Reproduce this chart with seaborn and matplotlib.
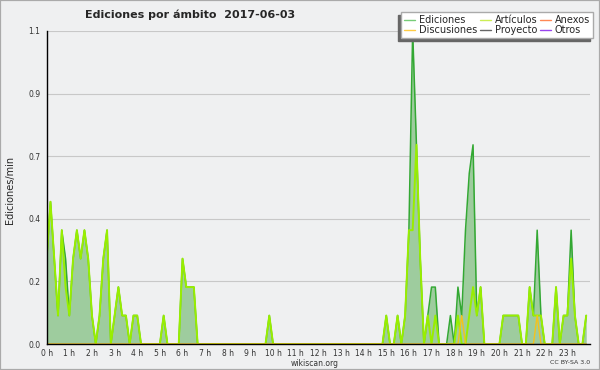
import numpy as np
import seaborn as sns
import matplotlib.pyplot as plt
from matplotlib.lines import Line2D
from matplotlib.patches import Rectangle

# ediciones por minuto, tramos de 10 minutos (6 por hora)
ediciones = [
    0.3, 0.5, 0.3, 0.1, 0.4, 0.3,   # 0 h
    0.1, 0.3, 0.4, 0.3, 0.4, 0.3,   # 1 h
    0.1, 0.0, 0.1, 0.3, 0.4, 0.0,   # 2 h
    0.1, 0.2, 0.1, 0.1, 0.0, 0.1,   # 3 h
    0.1, 0.0, 0.0, 0.0, 0.0, 0.0,   # 4 h
    0.0, 0.1, 0.0, 0.0, 0.0, 0.0,   # 5 h
    0.3, 0.2, 0.2, 0.2, 0.0, 0.0,   # 6 h
    0.0, 0.0, 0.0, 0.0, 0.0, 0.0,   # 7 h
    0.0, 0.0, 0.0, 0.0, 0.0, 0.0,   # 8 h
    0.0, 0.0, 0.0, 0.0, 0.0, 0.1,   # 9 h
    0.0, 0.0, 0.0, 0.0, 0.0, 0.0,   # 10 h
    0.0, 0.0, 0.0, 0.0, 0.0, 0.0,   # 11 h
    0.0, 0.0, 0.0, 0.0, 0.0, 0.0,   # 12 h
    0.0, 0.0, 0.0, 0.0, 0.0, 0.0,   # 13 h
    0.0, 0.0, 0.0, 0.0, 0.0, 0.0,   # 14 h
    0.1, 0.0, 0.0, 0.1, 0.0, 0.1,   # 15 h
    0.4, 1.1, 0.7, 0.3, 0.0, 0.1,   # 16 h
    0.2, 0.2, 0.0, 0.0, 0.0, 0.1,   # 17 h
    0.0, 0.2, 0.1, 0.4, 0.6, 0.7,   # 18 h
    0.1, 0.2, 0.0, 0.0, 0.0, 0.0,   # 19 h
    0.0, 0.1, 0.1, 0.1, 0.1, 0.1,   # 20 h
    0.0, 0.0, 0.2, 0.1, 0.4, 0.1,   # 21 h
    0.0, 0.0, 0.0, 0.2, 0.0, 0.1,   # 22 h
    0.1, 0.4, 0.1, 0.0, 0.0, 0.1,   # 23 h
]

articulos = [
    0.3, 0.5, 0.3, 0.1, 0.4, 0.2,   # 0 h
    0.1, 0.3, 0.4, 0.3, 0.4, 0.3,   # 1 h
    0.1, 0.0, 0.1, 0.3, 0.4, 0.0,   # 2 h
    0.1, 0.2, 0.1, 0.1, 0.0, 0.1,   # 3 h
    0.1, 0.0, 0.0, 0.0, 0.0, 0.0,   # 4 h
    0.0, 0.1, 0.0, 0.0, 0.0, 0.0,   # 5 h
    0.3, 0.2, 0.2, 0.2, 0.0, 0.0,   # 6 h
    0.0, 0.0, 0.0, 0.0, 0.0, 0.0,   # 7 h
    0.0, 0.0, 0.0, 0.0, 0.0, 0.0,   # 8 h
    0.0, 0.0, 0.0, 0.0, 0.0, 0.1,   # 9 h
    0.0, 0.0, 0.0, 0.0, 0.0, 0.0,   # 10 h
    0.0, 0.0, 0.0, 0.0, 0.0, 0.0,   # 11 h
    0.0, 0.0, 0.0, 0.0, 0.0, 0.0,   # 12 h
    0.0, 0.0, 0.0, 0.0, 0.0, 0.0,   # 13 h
    0.0, 0.0, 0.0, 0.0, 0.0, 0.0,   # 14 h
    0.1, 0.0, 0.0, 0.1, 0.0, 0.1,   # 15 h
    0.4, 0.4, 0.7, 0.3, 0.0, 0.1,   # 16 h
    0.0, 0.1, 0.0, 0.0, 0.0, 0.0,   # 17 h
    0.0, 0.1, 0.0, 0.0, 0.1, 0.2,   # 18 h
    0.1, 0.2, 0.0, 0.0, 0.0, 0.0,   # 19 h
    0.0, 0.1, 0.1, 0.1, 0.1, 0.1,   # 20 h
    0.0, 0.0, 0.2, 0.1, 0.1, 0.1,   # 21 h
    0.0, 0.0, 0.0, 0.2, 0.0, 0.1,   # 22 h
    0.1, 0.3, 0.1, 0.0, 0.0, 0.1,   # 23 h
]

discusiones = [0.0] * 144
discusiones[110] = 0.1   # 18:20
discusiones[130] = 0.1   # 21:40

anexos = [0.0] * 144
proyecto = [0.0] * 144
otros = [0.0] * 144

minutos = np.arange(0, 1440, 10)
horas = minutos / 60
etiquetas_horas = [f"{h} h" for h in range(24)]
yticks = [0.0, 0.22, 0.44, 0.66, 0.88, 1.1]
yticklabels = ["0.0", "0.2", "0.4", "0.7", "0.9", "1.1"]

bg = "#eff0f1"
sns.set_style("white", {"axes.facecolor": bg, "figure.facecolor": bg})
plt.rcParams["font.family"] = ["DejaVu Sans"]

fig = plt.figure(figsize=(6, 3.7), dpi=100)
ax = fig.add_axes([46.7 / 600, 1 - 344 / 370, (590 - 46.7) / 600, (344 - 31) / 370])

for y in yticks[1:]:
    ax.axhline(y, color="#c8c8c8", linewidth=0.8, zorder=0)

ax.fill_between(horas, ediciones, color="#9ecc9e", linewidth=0, zorder=1)
for serie, color in [(anexos, "#ff7744"), (proyecto, "#555555"), (otros, "#9933ee")]:
    sns.lineplot(x=horas, y=serie, ax=ax, color=color, linewidth=0.8, zorder=1)
sns.lineplot(x=horas, y=ediciones, ax=ax, color="#33a833", linewidth=1.1, zorder=2)
sns.lineplot(x=horas, y=articulos, ax=ax, color="#99ee00", linewidth=1.4, zorder=3)
sns.lineplot(x=horas, y=discusiones, ax=ax, color="#f5c21b", linewidth=1.0, zorder=4)

ax.set_xlim(0, 24)
ax.set_ylim(0, 1.1)
for s in ["top", "right"]:
    ax.spines[s].set_visible(False)
for s in ["left", "bottom"]:
    ax.spines[s].set_color("black")
    ax.spines[s].set_linewidth(1.0)
    ax.spines[s].set_zorder(5)

ax.set_xticks(range(24))
ax.set_xticklabels(etiquetas_horas)
ax.set_xticks(horas, minor=True)
ax.set_yticks(yticks)
ax.set_yticklabels(yticklabels)
ax.set_yticks(np.arange(0, 1.1, 0.055), minor=True)
ax.tick_params(axis="both", which="both", direction="out", color="black",
               labelsize=5.5, labelcolor="#333333", pad=0.5)
ax.tick_params(axis="x", which="major", length=3, width=0.8)
ax.tick_params(axis="x", which="minor", length=3, width=0.8)
ax.tick_params(axis="y", which="major", length=4, width=0.8)
ax.tick_params(axis="y", which="minor", length=2.5, width=0.8)
ax.set_xlabel("")
ax.set_ylabel("")

fig.text(85 / 600, 1 - 15 / 370, "Ediciones por ámbito  2017-06-03",
         fontsize=8, fontweight="bold", ha="left", va="center")
fig.text(10 / 600, 1 - 190 / 370, "Ediciones/min", rotation=90,
         fontsize=7, ha="center", va="center")
fig.text(315 / 600, 1 - 363 / 370, "wikiscan.org", fontsize=5.5,
         color="#333333", ha="center", va="center")
fig.text(590 / 600, 1 - 363 / 370, "CC BY-SA 3.0", fontsize=4.5,
         color="#333333", ha="right", va="center")

handles = [
    Line2D([], [], color="#77cc77", linewidth=1),
    Line2D([], [], color="#ffcc44", linewidth=1),
    Line2D([], [], color="#ccee55", linewidth=1),
    Line2D([], [], color="#666666", linewidth=1),
    Line2D([], [], color="#ff8855", linewidth=1),
    Line2D([], [], color="#9944ee", linewidth=1),
]
labels = ["Ediciones", "Discusiones", "Artículos", "Proyecto", "Anexos", "Otros"]
leg = fig.legend(handles, labels, ncol=3, loc="upper right",
                 bbox_to_anchor=(593 / 600, 1 - 12 / 370), fontsize=7,
                 frameon=True, fancybox=False, handlelength=1.1,
                 handletextpad=0.4, columnspacing=0.3, labelspacing=0.0,
                 borderpad=0.3, borderaxespad=0,
                 shadow={"ox": -2.2, "oy": -2.2, "color": "#666666", "alpha": 1})
leg.get_frame().set_edgecolor("#aaaaaa")
leg.get_frame().set_linewidth(1.0)
leg.get_frame().set_facecolor("white")
leg.get_frame().set_alpha(1)

fig.patches.append(Rectangle((0, 0), 1, 1, transform=fig.transFigure,
                             fill=False, edgecolor="#aaaaaa", linewidth=1.6))

fig.savefig("out.png", dpi=100, facecolor=bg)
